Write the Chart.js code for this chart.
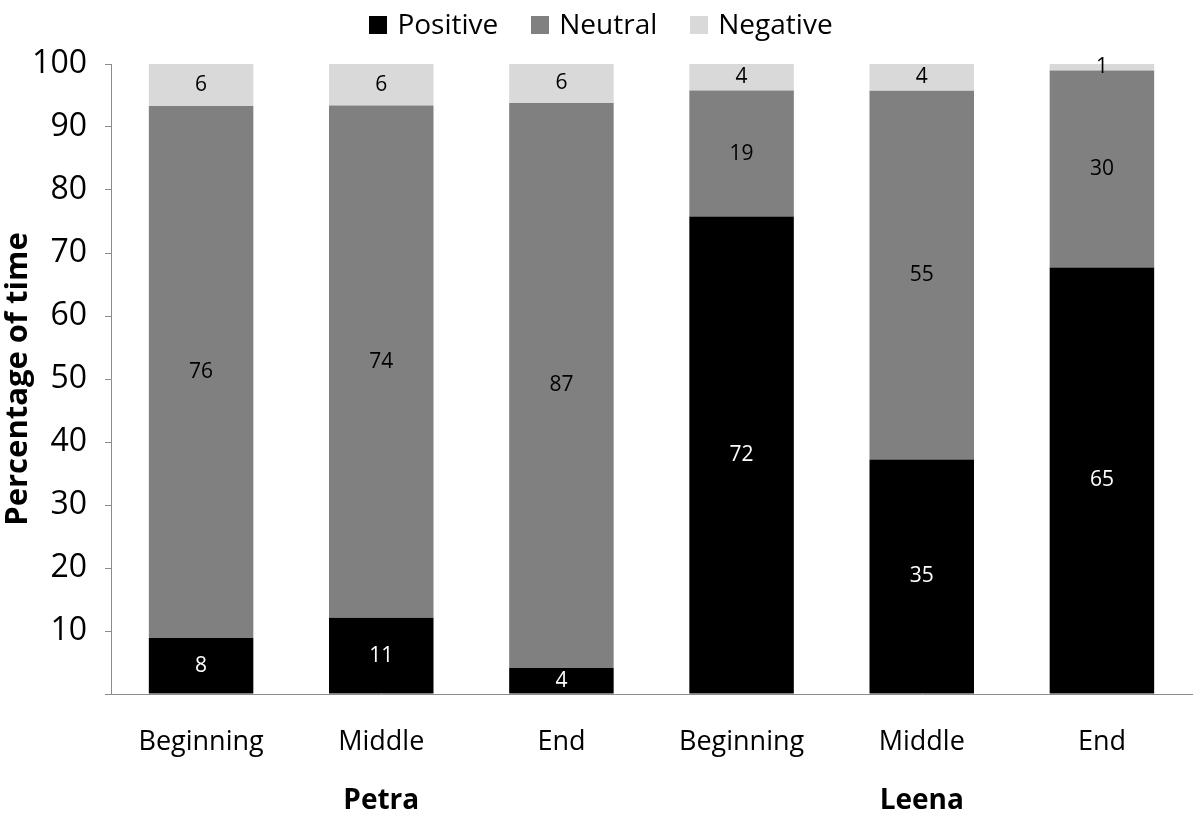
<!DOCTYPE html>
<html>
<head>
<meta charset="utf-8">
<script src="https://cdn.jsdelivr.net/npm/chart.js@4/dist/chart.umd.min.js"></script>
<style>
  html, body { margin: 0; padding: 0; background: #fff; }
  #wrap { position: relative; width: 1202px; height: 818px; }
  .legend {
    position: absolute;
    top: 6px;
    left: 0;
    width: 1202px;
    display: flex;
    justify-content: center;
    gap: 33px;
    margin: 0;
    padding: 0;
    list-style: none;
    font-family: 'Open Sans', 'Liberation Sans', sans-serif;
    font-size: 28px;
    line-height: 34px;
    color: #000;
  }
  .legend li { display: flex; align-items: center; }
  .legend .box { width: 18px; height: 18px; margin: 3px 10px 0 0; }
</style>
</head>
<body>
<div id="wrap">
  <canvas id="myChart"></canvas>
  <ul class="legend"></ul>
</div>
<script>
// data (raw values, bars are drawn as % of each column)
const categories = ["Beginning", "Middle", "End", "Beginning", "Middle", "End"];
const groups = ["Petra", "Leena"];
const positive = [8, 11, 4, 72, 35, 65];
const neutral = [76, 74, 87, 19, 55, 30];
const negative = [6, 6, 6, 4, 4, 1];
const yTicks = [10, 20, 30, 40, 50, 60, 70, 80, 90, 100];

const totals = positive.map((v, i) => v + neutral[i] + negative[i]);
const toPct = (arr) => arr.map((v, i) => (v / totals[i]) * 100);

const font = "'Open Sans', 'Liberation Sans', sans-serif";

// value labels inside the segments
const valueLabels = {
  id: "valueLabels",
  afterDatasetsDraw(chart) {
    const ctx = chart.ctx;
    ctx.save();
    ctx.font = "21px " + font;
    ctx.textAlign = "center";
    ctx.textBaseline = "middle";
    chart.data.datasets.forEach((ds, di) => {
      const meta = chart.getDatasetMeta(di);
      meta.data.forEach((bar, i) => {
        const y = (bar.y + bar.base) / 2;
        ctx.fillStyle = ds.labelColor;
        ctx.fillText(ds.raw[i], bar.x, y);
      });
    });
    ctx.restore();
  },
};

// Petra / Leena under the category labels
const groupLabels = {
  id: "groupLabels",
  afterDraw(chart) {
    const ctx = chart.ctx;
    const xs = chart.scales.x;
    ctx.save();
    ctx.font = "bold 28px " + font;
    ctx.fillStyle = "#000";
    ctx.textAlign = "center";
    ctx.textBaseline = "middle";
    const per = categories.length / groups.length;
    groups.forEach((g, gi) => {
      const x = xs.getPixelForValue(gi * per + (per - 1) / 2);
      ctx.fillText(g, x, 801);
    });
    ctx.restore();
  },
};

const myChart = new Chart(document.getElementById("myChart"), {
  type: "bar",
  data: {
    labels: categories,
    datasets: [
      {
        label: "Positive",
        data: toPct(positive),
        raw: positive,
        backgroundColor: "#000000",
        labelColor: "#ffffff",
      },
      {
        label: "Neutral",
        data: toPct(neutral),
        raw: neutral,
        backgroundColor: "#808080",
        labelColor: "#000000",
      },
      {
        label: "Negative",
        data: toPct(negative),
        raw: negative,
        backgroundColor: "#d9d9d9",
        labelColor: "#000000",
      },
    ],
  },
  options: {
    responsive: true,
    maintainAspectRatio: false,
    animation: false,
    datasets: {
      bar: {
        barPercentage: 0.58,
        categoryPercentage: 1,
        borderWidth: 0,
      },
    },
    layout: {
      padding: { left: 0, right: 10, top: 64, bottom: 34 },
    },
    plugins: {
      legend: { display: false },
      tooltip: { enabled: false },
    },
    scales: {
      x: {
        stacked: true,
        grid: { display: false },
        border: { display: true, color: "#8c8c8c", width: 1 },
        afterFit: (scale) => {
          scale.height = 90;
        },
        ticks: {
          color: "#000",
          padding: 24,
          maxRotation: 0,
          font: { family: font, size: 27 },
        },
      },
      y: {
        stacked: true,
        min: 0,
        max: 100,
        afterBuildTicks: (axis) => {
          axis.ticks = [0].concat(yTicks).map((v) => ({ value: v }));
        },
        afterFit: (scale) => {
          scale.width = 111;
        },
        grid: {
          drawOnChartArea: false,
          drawTicks: true,
          tickLength: 6,
          color: "#8c8c8c",
        },
        border: { display: true, color: "#8c8c8c", width: 1 },
        ticks: {
          color: "#000",
          padding: 18,
          font: { family: font, size: 32 },
          callback: (v) => (v === 0 ? "" : v),
        },
        title: {
          display: true,
          text: "Percentage of time",
          color: "#000",
          font: { family: font, size: 31, weight: "bold" },
          padding: { top: 0, bottom: 0 },
        },
      },
    },
  },
  plugins: [valueLabels, groupLabels],
});

// legend as a list over the top of the canvas
const ul = document.querySelector(".legend");
myChart.data.datasets.forEach((ds) => {
  let li = document.createElement("li");
  li.innerHTML = `<span class='box' style='background:${ds.backgroundColor}'></span>${ds.label}`;
  ul.appendChild(li);
});
</script>
</body>
</html>
